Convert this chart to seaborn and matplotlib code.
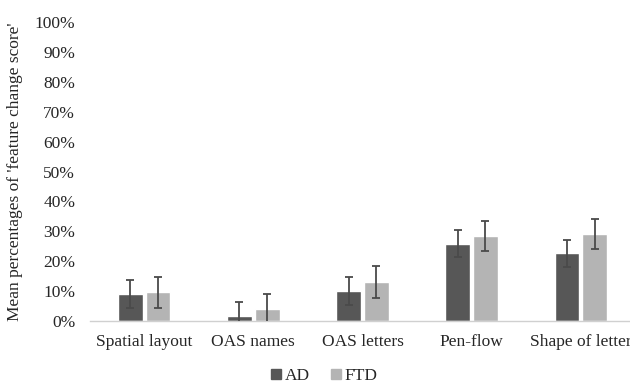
import matplotlib
matplotlib.use("Agg")
import matplotlib.pyplot as plt
import numpy as np
import pandas as pd
import seaborn as sns

features = ["Spatial layout", "OAS names", "OAS letters", "Pen-flow", "Shape of letter"]
groups = ["AD", "FTD"]
ad_mean = [9.1, 1.7, 10.1, 25.9, 22.6]
ftd_mean = [9.6, 4.0, 13.1, 28.5, 29.1]
ad_err = [4.6, 4.7, 4.6, 4.4, 4.5]
ftd_err = [5.1, 5.1, 5.3, 5.1, 5.1]
y_ticks = list(range(0, 101, 10))

df = pd.DataFrame({
    "feature": features * 2,
    "group": ["AD"] * len(features) + ["FTD"] * len(features),
    "mean": ad_mean + ftd_mean,
    "err": ad_err + ftd_err,
})

sns.set_theme(style="white")
plt.rcParams["font.family"] = ["Liberation Serif", "DejaVu Serif"]

fig = plt.figure(figsize=(6.3, 3.84), dpi=100)
ax = fig.add_axes([0.1424, 0.164, 0.8576, 0.7786])

palette = {"AD": "#575757", "FTD": "#b4b4b4"}
sns.barplot(data=df, x="feature", y="mean", hue="group", hue_order=groups,
            order=features, palette=palette, width=0.51, gap=0.12,
            saturation=1, errorbar=None, ax=ax)

# error bars placed on the bar centres seaborn computed
for cont, g in zip(ax.containers, groups):
    sub = df[df["group"] == g].set_index("feature").loc[features]
    xs = [p.get_x() + p.get_width() / 2 for p in cont.patches]
    ax.errorbar(xs, sub["mean"], yerr=sub["err"], fmt="none",
                ecolor="#4a4a4a", elinewidth=1.3, capsize=3, capthick=1.3,
                zorder=3)

ax.set_ylim(0, 100)
ax.set_xlim(-0.5, 4.452)
ax.set_yticks(y_ticks)
ax.set_yticklabels([f"{t}%" for t in y_ticks])
ax.tick_params(axis="y", length=0, pad=10.5, labelsize=12.5, colors="#262626")
ax.tick_params(axis="x", length=0, pad=9, labelsize=12.5, colors="#262626")
ax.set_xlabel("")
ax.set_ylabel("Mean percentages of 'feature change score'", fontsize=12.5,
              color="#262626", labelpad=8)

for side in ["top", "right", "left"]:
    ax.spines[side].set_visible(False)
ax.spines["bottom"].set_color("#d0d0d0")
ax.spines["bottom"].set_linewidth(1)

ax.legend_.remove()
handles = [plt.Line2D([], [], marker="s", linestyle="none", markersize=7,
                      color=palette[g]) for g in groups]
fig.legend(handles, groups, loc="center", bbox_to_anchor=(324 / 630, 1 - 376 / 384),
           ncol=2, frameon=False, fontsize=12.5, handlelength=0.6,
           handletextpad=0.2, columnspacing=1.2, labelcolor="#262626")

fig.savefig("out.png", dpi=100)
